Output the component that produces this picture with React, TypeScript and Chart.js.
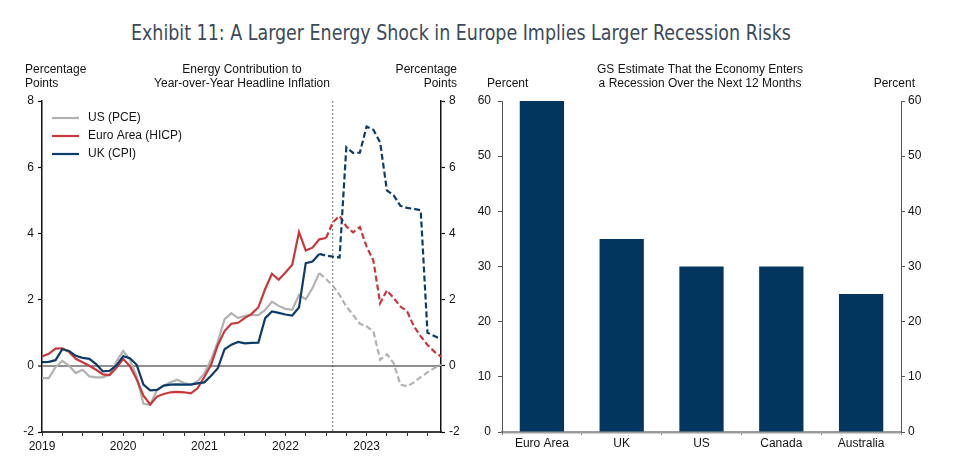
import React, { useEffect, useLayoutEffect, useRef } from 'react';
import { Chart, registerables } from 'chart.js';

Chart.register(...registerables);

const FONT = "'Liberation Sans', Arial, Helvetica, sans-serif";
Chart.defaults.font.family = FONT;
Chart.defaults.font.size = 12;
Chart.defaults.color = '#141414';

// ---------- Left panel data ----------
const startYear = 2019;
const monthLabels = Array.from({ length: 60 }, (_, i) =>
  `${startYear + Math.floor(i / 12)}-${String((i % 12) + 1).padStart(2, '0')}`
);

const usPce = [
  -0.37, -0.37, -0.04, 0.15, 0.0, -0.22, -0.12, -0.32, -0.35, -0.35, -0.27, 0.13,
  0.45, 0.18, -0.32, -1.15, -1.18, -0.73, -0.6, -0.5, -0.42, -0.52, -0.57, -0.47,
  -0.23, 0.18, 0.73, 1.41, 1.59, 1.44, 1.51, 1.53, 1.53, 1.69, 1.94, 1.81,
  1.72, 1.69, 2.14, 2.01, 2.35, 2.8, 2.62, 2.42, 2.14, 1.79, 1.54, 1.27,
  1.19, 1.04, 0.18, 0.35, 0.08, -0.57, -0.62, -0.5, -0.34, -0.2, -0.07, 0.03,
];
const euroAreaHicp = [
  0.28, 0.36, 0.52, 0.53, 0.42, 0.21, 0.11, 0.0, -0.12, -0.26, -0.28, -0.06,
  0.21, -0.01, -0.41, -0.9, -1.17, -0.93, -0.85, -0.8, -0.79, -0.8, -0.83, -0.68,
  -0.34, 0.03, 0.63, 1.05, 1.27, 1.3, 1.45, 1.57, 1.77, 2.32, 2.78, 2.6,
  2.82, 3.05, 4.04, 3.48, 3.57, 3.82, 3.86, 4.33, 4.53, 4.21, 4.03, 4.19,
  3.6, 3.18, 1.89, 2.28, 2.05, 1.79, 1.64, 1.19, 0.89, 0.63, 0.43, 0.28,
];
const ukCpi = [
  0.11, 0.12, 0.17, 0.5, 0.45, 0.3, 0.24, 0.21, 0.05, -0.17, -0.15, 0.01,
  0.29, 0.23, 0.03, -0.57, -0.74, -0.73, -0.6, -0.57, -0.56, -0.57, -0.57, -0.53,
  -0.5, -0.3, -0.07, 0.5, 0.64, 0.72, 0.68, 0.69, 0.7, 1.44, 1.64, 1.6,
  1.55, 1.52, 1.76, 3.1, 3.15, 3.38, 3.33, 3.3, 3.27, 6.6, 6.43, 6.44,
  7.23, 7.13, 6.75, 5.3, 5.15, 4.83, 4.77, 4.74, 4.7, 1.0, 0.9, 0.8,
];
// last month of actual (solid) data; later months are forecasts (dashed)
const usLastActual = '2022-06';
const euroLastActual = '2022-07';
const ukLastActual = '2022-06';
const forecastMarker = '2022-08';
const energyTicks = [-2, 0, 2, 4, 6, 8];

// ---------- Right panel data ----------
const countries = ['Euro Area', 'UK', 'US', 'Canada', 'Australia'];
const recessionProbability = [60, 35, 30, 30, 25];
const probabilityTicks = [0, 10, 20, 30, 40, 50, 60];

const GREY = '#b2b2b2';
const RED = '#c9373c';
const BLUE = '#0d3c68';
const NAVY = '#03365f';

function drawLines(ctx: CanvasRenderingContext2D, lines: string[], x: number, ys: number[], align: CanvasTextAlign) {
  ctx.textAlign = align;
  ctx.textBaseline = 'middle';
  lines.forEach((t, i) => ctx.fillText(t, x, ys[i]));
}

const leftDecor = {
  id: 'leftDecor',
  beforeDatasetsDraw(chart: any) {
    const { ctx, chartArea, scales } = chart;
    const x = scales.x.getPixelForValue(monthLabels.indexOf(forecastMarker));
    ctx.save();
    ctx.strokeStyle = '#555';
    ctx.lineWidth = 0.8;
    ctx.setLineDash([2, 2]);
    ctx.beginPath();
    ctx.moveTo(x, chartArea.top);
    ctx.lineTo(x, chartArea.bottom);
    ctx.stroke();
    ctx.restore();
  },
  afterDraw(chart: any) {
    const { ctx } = chart;
    ctx.save();
    ctx.fillStyle = '#141414';
    ctx.font = `12px ${FONT}`;
    drawLines(ctx, ['Percentage', 'Points'], 25, [70, 84], 'left');
    drawLines(ctx, ['Energy Contribution to', 'Year-over-Year Headline Inflation'], 242, [70, 84], 'center');
    drawLines(ctx, ['Percentage', 'Points'], 457, [70, 84], 'right');
    // legend
    const ys = [118, 136, 154];
    chart.data.datasets.forEach((ds: any, i: number) => {
      ctx.strokeStyle = ds.borderColor;
      ctx.lineWidth = 2.2;
      ctx.beginPath();
      ctx.moveTo(52, ys[i]);
      ctx.lineTo(79, ys[i]);
      ctx.stroke();
      ctx.fillStyle = '#141414';
      ctx.textAlign = 'left';
      ctx.textBaseline = 'middle';
      ctx.fillText(ds.label, 88, ys[i]);
    });
    ctx.restore();
  },
};

const rightDecor = {
  id: 'rightDecor',
  afterDraw(chart: any) {
    const { ctx } = chart;
    ctx.save();
    ctx.fillStyle = '#141414';
    ctx.font = `12px ${FONT}`;
    drawLines(ctx, ['Percent'], 17, [84], 'left');
    drawLines(ctx, ['GS Estimate That the Economy Enters', 'a Recession Over the Next 12 Months'], 230, [70, 84], 'center');
    drawLines(ctx, ['Percent'], 445, [84], 'right');
    ctx.restore();
  },
};

function lineDataset(label: string, data: number[], color: string, lastActual: string, order: number, width: number) {
  const split = monthLabels.indexOf(lastActual);
  return {
    label,
    data,
    borderColor: color,
    backgroundColor: color,
    borderWidth: width,
    pointRadius: 0,
    tension: 0,
    order,
    segment: {
      borderDash: (c: any) => (c.p0DataIndex >= split ? [6, 3] : undefined),
    },
  };
}

function LeftChart() {
  const ref = useRef<HTMLCanvasElement>(null);
  useEffect(() => {
    const chart = new Chart(ref.current!, {
      type: 'line',
      data: {
        labels: monthLabels,
        datasets: [
          lineDataset('US (PCE)', usPce, GREY, usLastActual, 2, 2.2),
          lineDataset('Euro Area (HICP)', euroAreaHicp, RED, euroLastActual, 1, 2.2),
          lineDataset('UK (CPI)', ukCpi, BLUE, ukLastActual, 0, 2.2),
        ] as any,
      },
      options: {
        animation: false,
        responsive: true,
        maintainAspectRatio: false,
        layout: { padding: { top: 101, left: 0, right: 0, bottom: 0 } },
        plugins: { legend: { display: false }, tooltip: { enabled: false }, title: { display: false } },
        scales: {
          x: {
            type: 'category',
            offset: false,
            grid: {
              drawOnChartArea: false,
              tickLength: 4,
              tickWidth: 1,
              tickColor: (c: any) => (c.index % 3 === 0 ? '#333' : 'rgba(0,0,0,0)'),
            },
            border: { color: '#3a3a3a', width: 2 },
            ticks: {
              autoSkip: false,
              maxRotation: 0,
              padding: 3,
              color: '#141414',
              callback: (_v: any, i: number) => (i % 12 === 0 ? monthLabels[i].slice(0, 4) : ''),
            },
            afterFit: (s: any) => { s.height = 43; },
          },
          y: {
            position: 'left',
            min: energyTicks[0],
            max: energyTicks[energyTicks.length - 1],
            ticks: { stepSize: 2, padding: 4, color: '#141414' },
            grid: {
              color: (c: any) => (c.tick && c.tick.value === 0 ? '#8f8f8f' : 'rgba(0,0,0,0)'),
              lineWidth: (c: any) => (c.tick && c.tick.value === 0 ? 2 : 1),
              tickColor: '#111',
              tickLength: 4,
              tickWidth: 1.2,
            },
            border: { color: '#111', width: 1.5 },
            afterFit: (s: any) => { s.width = 42; },
          },
          y2: {
            position: 'right',
            min: energyTicks[0],
            max: energyTicks[energyTicks.length - 1],
            ticks: { stepSize: 2, padding: 4, color: '#141414' },
            grid: { drawOnChartArea: false, tickColor: '#111', tickLength: 4, tickWidth: 1.2 },
            border: { color: '#111', width: 1.5 },
            afterFit: (s: any) => { s.width = 29; },
          },
        },
      } as any,
      plugins: [leftDecor],
    });
    return () => chart.destroy();
  }, []);
  return (
    <div style={{ position: 'absolute', left: 0, top: 0, width: 470, height: 475 }}>
      <canvas ref={ref} />
    </div>
  );
}

function RightChart() {
  const ref = useRef<HTMLCanvasElement>(null);
  useEffect(() => {
    const chart = new Chart(ref.current!, {
      type: 'bar',
      data: {
        labels: countries,
        datasets: [
          {
            label: 'Recession probability',
            data: recessionProbability,
            backgroundColor: NAVY,
            borderWidth: 0,
            barPercentage: 0.555,
            categoryPercentage: 1,
          },
        ],
      },
      options: {
        animation: false,
        responsive: true,
        maintainAspectRatio: false,
        layout: { padding: { top: 101, left: 0, right: 0, bottom: 0 } },
        plugins: { legend: { display: false }, tooltip: { enabled: false }, title: { display: false } },
        scales: {
          x: {
            grid: { offset: true, drawOnChartArea: false, tickLength: 3, tickColor: '#777', tickWidth: 1 },
            border: { color: '#9c9c9c', width: 2.5 },
            ticks: { padding: 1, color: '#141414' },
            afterFit: (s: any) => { s.height = 43; },
          },
          y: {
            position: 'left',
            min: probabilityTicks[0],
            max: probabilityTicks[probabilityTicks.length - 1],
            ticks: { stepSize: 10, padding: 7, color: '#141414' },
            grid: { drawOnChartArea: false, tickColor: '#555', tickLength: 4, tickWidth: 1 },
            border: { color: '#555', width: 1 },
            afterFit: (s: any) => { s.width = 32; },
          },
          y2: {
            position: 'right',
            min: probabilityTicks[0],
            max: probabilityTicks[probabilityTicks.length - 1],
            ticks: { stepSize: 10, padding: 3, color: '#141414' },
            grid: { drawOnChartArea: false, tickColor: '#555', tickLength: 4, tickWidth: 1 },
            border: { color: '#555', width: 1 },
            afterFit: (s: any) => { s.width = 66; },
          },
        },
      } as any,
      plugins: [rightDecor],
    });
    return () => chart.destroy();
  }, []);
  return (
    <div style={{ position: 'absolute', left: 470, top: 0, width: 497, height: 475 }}>
      <canvas ref={ref} />
    </div>
  );
}

function Title() {
  const ref = useRef<HTMLSpanElement>(null);
  useLayoutEffect(() => {
    const el = ref.current;
    if (!el) return;
    el.style.transform = 'none';
    const w = el.getBoundingClientRect().width;
    const target = 660;
    el.style.left = `${461 - w / 2}px`;
    el.style.transform = `scaleX(${target / w})`;
  }, []);
  return (
    <span
      ref={ref}
      style={{
        position: 'absolute',
        top: 20,
        left: 131,
        whiteSpace: 'nowrap',
        fontFamily: "'Liberation Sans Narrow', 'DejaVu Sans Condensed', 'Liberation Sans', sans-serif",
        fontSize: 22,
        lineHeight: '26px',
        color: '#3c4a5a',
        transformOrigin: 'center',
      }}
    >
      Exhibit 11: A Larger Energy Shock in Europe Implies Larger Recession Risks
    </span>
  );
}

export default function App() {
  return (
    <div style={{ position: 'absolute', left: 0, top: 0, width: 967, height: 475, background: '#fff', overflow: 'hidden' }}>
      <Title />
      <LeftChart />
      <RightChart />
    </div>
  );
}
